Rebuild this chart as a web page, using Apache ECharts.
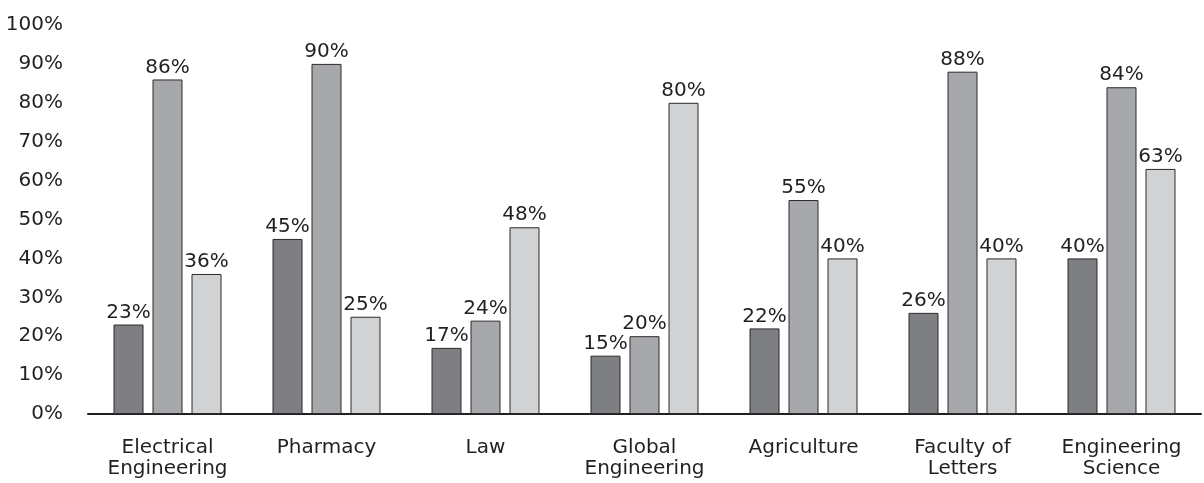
<!DOCTYPE html>
<html>
<head>
<meta charset="utf-8">
<script src="https://cdn.jsdelivr.net/npm/echarts@6/dist/echarts.min.js"></script>
<style>
html,body{margin:0;padding:0;background:#fff;}
#chart{width:1204px;height:483px;}
</style>
</head>
<body>
<div id="chart"></div>
<script>
const categories = ["Electrical\nEngineering", "Pharmacy", "Law", "Global\nEngineering", "Agriculture", "Faculty of\nLetters", "Engineering\nScience"];
const seriesA = [23, 45, 17, 15, 22, 26, 40];
const seriesB = [86, 90, 24, 20, 55, 88, 84];
const seriesC = [36, 25, 48, 80, 40, 40, 63];
const yTicks = [0, 100, 10];

const font = "'DejaVu Sans', sans-serif";
const colors = ["#7e7f83", "#a7a8ac", "#d1d2d4"];

function mk(data, color) {
  return {
    type: "bar",
    data: data,
    barWidth: 30,
    barGap: "30%",
    itemStyle: { color: color, borderColor: "#2b2b2b", borderWidth: 1 },
    label: {
      show: true, position: "top", distance: 2,
      formatter: "{c}%", color: "#231f20", fontSize: 20, fontFamily: font
    }
  };
}

const chart = echarts.init(document.getElementById("chart"));
chart.setOption({
  animation: false,
  grid: { left: 88, right: 3, top: 25, bottom: 69, containLabel: false },
  xAxis: {
    type: "category",
    data: categories,
    axisLine: { lineStyle: { color: "#231f20", width: 2 } },
    axisTick: { show: false },
    axisLabel: { color: "#231f20", fontSize: 20, fontFamily: font, lineHeight: 21, margin: 23, interval: 0 }
  },
  yAxis: {
    type: "value",
    min: yTicks[0], max: yTicks[1], interval: yTicks[2],
    axisLine: { show: false },
    axisTick: { show: false },
    splitLine: { show: false },
    axisLabel: { formatter: "{value}%", color: "#231f20", fontSize: 20, fontFamily: font, margin: 25 }
  },
  series: [mk(seriesA, colors[0]), mk(seriesB, colors[1]), mk(seriesC, colors[2])]
});
</script>
</body>
</html>
